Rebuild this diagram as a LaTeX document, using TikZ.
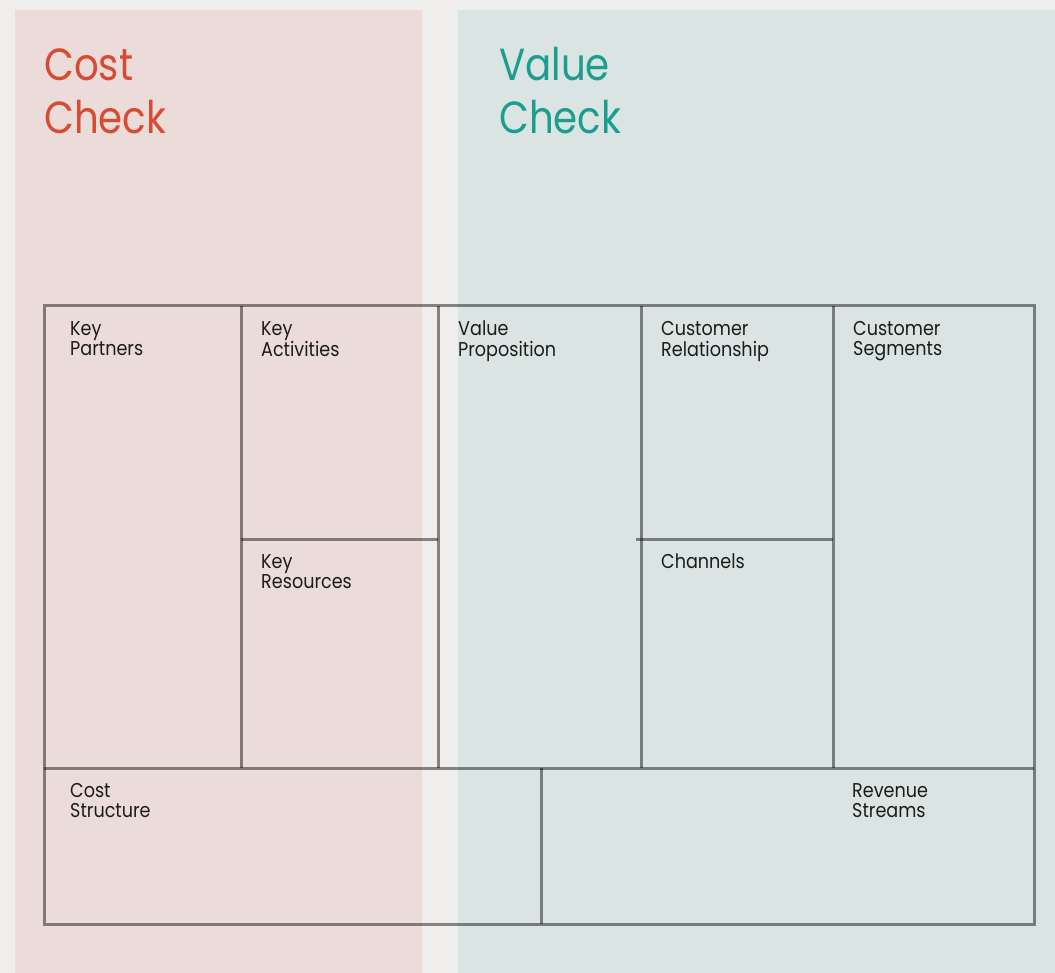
\documentclass[tikz,border=0pt]{standalone}
\usepackage{fontspec}
\setmainfont{Poppins}
\definecolor{bgc}{HTML}{EFEEEC}
\definecolor{pinkc}{HTML}{EBDCDA}
\definecolor{tealc}{HTML}{DAE5E3}
\definecolor{costc}{HTML}{D94A33}
\definecolor{valuec}{HTML}{1B9E8F}
\definecolor{txtc}{HTML}{1C1C1C}
\newcommand\lbltext[1]{\scalebox{0.88}[1]{\begin{tabular}{@{}l@{}}#1\end{tabular}}}
\newcommand\ttltext[1]{\scalebox{0.86}[1]{\begin{tabular}{@{}l@{}}#1\end{tabular}}}
\begin{document}
\begin{tikzpicture}[x=1pt,y=-1pt,
  grid/.style={draw=black,draw opacity=0.45,line width=3pt},
  lbl/.style={anchor=north west,inner sep=0pt,text=txtc,font=\fontsize{20}{20.7}\selectfont},
  ttl/.style={anchor=north west,inner sep=0pt,font=\fontsize{45}{53.5}\selectfont}]
\fill[bgc] (0,0) rectangle (1055,973);
\useasboundingbox (0,0) rectangle (1055,973);
\fill[pinkc] (15,10) rectangle (422,973);
\fill[tealc] (458,10) rectangle (1055,973);
\node[ttl,text=costc] (cost) at (44,42.5) {\ttltext{Cost\\Check}};
\node[ttl,text=valuec] (value) at (499,42.5) {\ttltext{Value\\Check}};
% grid
\coordinate (tl) at (44,306);
\coordinate (br) at (1034,924);
\draw[grid] (tl) rectangle (br);
\draw[grid] (241,306) -- (241,768);
\draw[grid] (438,306) -- (438,768);
\draw[grid] (641,306) -- (641,768);
\draw[grid] (833,306) -- (833,768);
\draw[grid] (44,768) -- (1034,768);
\draw[grid] (541,768) -- (541,924);
\draw[grid] (241,539) -- (438,539);
\draw[grid] (636,539) -- (833,539);
% labels
\node[lbl] (kp) at (70,320.5) {\lbltext{Key\\Partners}};
\node[lbl] (ka) at (261,320.5) {\lbltext{Key\\Activities}};
\node[lbl] (vp) at (458,320.5) {\lbltext{Value\\Proposition}};
\node[lbl] (cr) at (661,320.5) {\lbltext{Customer\\Relationship}};
\node[lbl] (cs) at (853,320.5) {\lbltext{Customer\\Segments}};
\node[lbl] (kr) at (261,553.5) {\lbltext{Key\\Resources}};
\node[lbl] (ch) at (661,553.5) {\lbltext{Channels}};
\node[lbl] (cst) at (70,782.5) {\lbltext{Cost\\Structure}};
\node[lbl] (rs) at (852,782.5) {\lbltext{Revenue\\Streams}};
\end{tikzpicture}
\end{document}
